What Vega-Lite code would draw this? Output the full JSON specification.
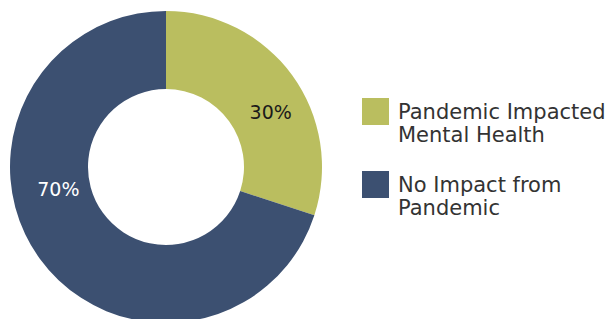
{
  "$schema": "https://vega.github.io/schema/vega-lite/v6.json",
  "width": 332,
  "height": 334,
  "padding": {"left": 0, "top": 0, "right": 278, "bottom": 0},
  "autosize": {"type": "none"},
  "background": "white",
  "config": {"style": {"guide-label": {"lineHeight": 23, "dy": 7}}},
  "data": {"values": [
    {"category": "Pandemic Impacted Mental Health", "value": 30, "label": "30%"},
    {"category": "No Impact from Pandemic", "value": 70, "label": "70%"}
  ]},
  "encoding": {
    "theta": {"field": "value", "type": "quantitative", "stack": true},
    "order": {"field": "value", "type": "quantitative", "sort": "ascending"}
  },
  "layer": [
    {
      "mark": {"type": "arc", "outerRadius": 156, "innerRadius": 78},
      "encoding": {
        "color": {
          "field": "category", "type": "nominal",
          "scale": {"domain": ["Pandemic Impacted Mental Health", "No Impact from Pandemic"], "range": ["#BABE5F", "#3C5071"]},
          "legend": {
            "title": null,
            "orient": "none",
            "legendX": 362,
            "legendY": 98,
            "symbolType": "square",
            "symbolSize": 729,
            "symbolStrokeWidth": 0,
            "symbolOpacity": 1,
            "labelFont": "DejaVu Sans",
            "labelFontSize": 21,
            "labelColor": "#333333",
            "labelLimit": 400,
            "labelOffset": 9,
            "labelBaseline": "alphabetic",
            "rowPadding": 25,
            "labelExpr": "datum.label == 'Pandemic Impacted Mental Health' ? ['Pandemic Impacted', 'Mental Health'] : ['No Impact from', 'Pandemic']"
          }
        }
      }
    },
    {
      "mark": {"type": "text", "radius": 117, "font": "DejaVu Sans", "fontSize": 19, "color": "#1a1a1a", "dx": 10, "dy": 15},
      "encoding": {"text": {"condition": {"test": "datum.value == 30", "field": "label"}, "value": ""}}
    },
    {
      "mark": {"type": "text", "radius": 117, "font": "DejaVu Sans", "fontSize": 19, "color": "white", "dx": -13, "dy": -46},
      "encoding": {"text": {"condition": {"test": "datum.value == 70", "field": "label"}, "value": ""}}
    }
  ]
}
